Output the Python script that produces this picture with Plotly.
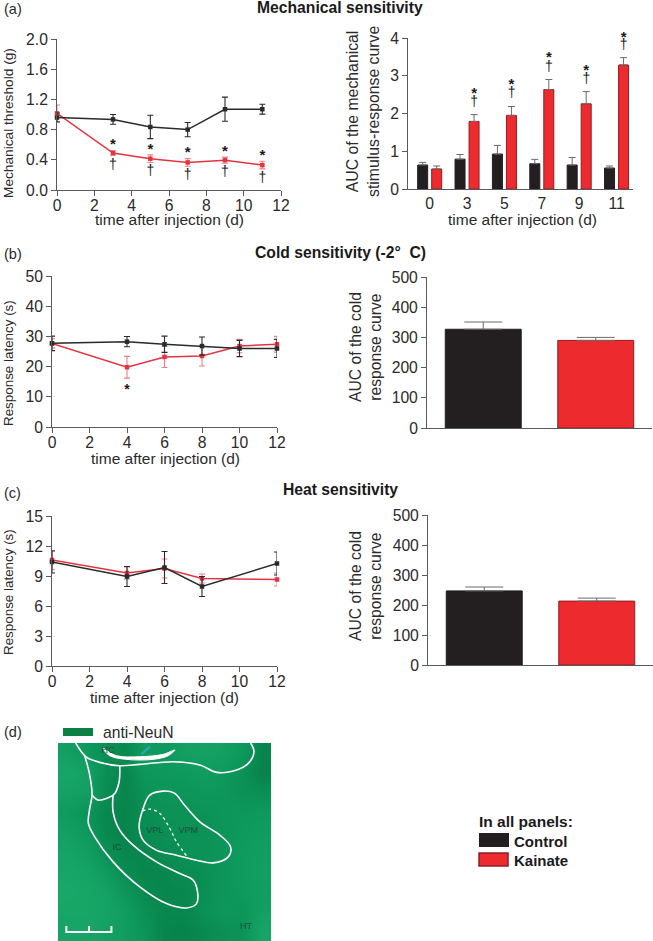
import plotly.graph_objects as go

FONT = "Liberation Sans"
BLACK = "#231f20"
RED = "#ed2a2e"
REDLINE = "#e5343f"
REDERR = "#ef7f86"
REDEDGE = "#8f1f24"
INK = "#2b2a2a"
AXIS = "#5a5a5a"
W, H = 653, 941

# Panel (a) time course
a_days = [0, 3, 5, 7, 9, 11]
a_ctrl = [0.96, 0.935, 0.835, 0.80, 1.07, 1.07]
a_ctrl_err = [0.06, 0.065, 0.155, 0.095, 0.16, 0.065]
a_kain = [1.015, 0.49, 0.415, 0.365, 0.395, 0.33]
a_kain_err = [0.11, 0.03, 0.05, 0.05, 0.04, 0.05]
a_star_days = [3, 5, 7, 9, 11]
a_star_y = [0.59, 0.53, 0.49, 0.50, 0.445]
a_dag_y = [0.32, 0.25, 0.19, 0.23, 0.155]

# Panel (a) AUC
a_auc_labels = ["0", "3", "5", "7", "9", "11"]
a_auc_ctrl = [0.635, 0.79, 0.925, 0.67, 0.635, 0.555]
a_auc_ctrl_err = [0.07, 0.125, 0.23, 0.115, 0.20, 0.055]
a_auc_kain = [0.53, 1.79, 1.95, 2.635, 2.255, 3.285]
a_auc_kain_err = [0.08, 0.18, 0.235, 0.265, 0.325, 0.195]
a_auc_star_idx = [1, 2, 3, 4, 5]
a_auc_star_y = [2.51, 2.75, 3.455, 3.13, 4.0]
a_auc_dag_y = [2.3, 2.52, 3.23, 2.9, 3.8]

# Panel (b) time course
b_days = [0, 4, 6, 8, 10, 12]
b_ctrl = [27.7, 28.25, 27.4, 26.8, 26.0, 26.0]
b_ctrl_err = [2.4, 1.7, 2.7, 3.0, 2.7, 3.0]
b_kain = [27.7, 19.8, 23.2, 23.5, 26.8, 27.4]
b_kain_err = [1.5, 3.6, 3.5, 3.3, 2.2, 2.6]
b_star_days = [4]
b_star_y = [12.2]

# Panel (b) AUC
b_auc = [327, 290]
b_auc_err = [24, 10]

# Panel (c) time course
c_days = [0, 4, 6, 8, 12]
c_ctrl = [10.4, 8.95, 9.85, 7.95, 10.25]
c_ctrl_err = [1.1, 1.0, 1.6, 1.0, 1.15]
c_kain = [10.6, 9.3, 9.75, 8.75, 8.65]
c_kain_err = [0.95, 0.6, 0.95, 0.45, 0.65]

# Panel (c) AUC
c_auc = [247, 213]
c_auc_err = [13, 10]

# Panel (d) micrograph tone, estimated by eye on a coarse grid
tissue_tone = [
    [.60, .52, .40, .36, .56, .52, .60, .62, .60, .52, .32],
    [.68, .62, .40, .34, .50, .52, .52, .56, .52, .44, .30],
    [.62, .60, .38, .32, .44, .48, .48, .50, .50, .44, .42],
    [.54, .46, .34, .32, .40, .44, .44, .46, .48, .50, .52],
    [.60, .52, .34, .32, .38, .42, .44, .44, .48, .52, .56],
    [.64, .58, .42, .32, .34, .40, .44, .44, .48, .54, .58],
    [.68, .64, .54, .38, .32, .34, .38, .42, .48, .54, .60],
    [.70, .68, .62, .48, .36, .32, .34, .42, .48, .52, .58],
    [.68, .68, .64, .56, .42, .34, .34, .44, .50, .48, .60],
    [.66, .66, .62, .56, .46, .32, .30, .36, .42, .46, .66],
]
outer_x = [228, 245, 262, 300, 360, 420, 520, 600, 650, 700, 745, 762, 752]
outer_y = [84, 110, 128, 142, 152, 148, 140, 150, 172, 168, 145, 110, 84]
capsule_x = [255, 270, 277, 270, 266, 285, 340, 420, 500, 560, 590, 593, 580, 540, 470, 400, 360, 340, 340]
capsule_y = [122, 180, 240, 280, 325, 365, 440, 515, 565, 578, 565, 530, 495, 475, 440, 390, 345, 290, 240]
bridge_x = [360, 358, 345, 320, 295, 277]
bridge_y = [152, 200, 235, 250, 255, 240]
vp_x = [430, 450, 490, 525, 550, 600, 660, 692, 685, 640, 590, 530, 470, 430, 418, 430]
vp_y = [280, 240, 228, 235, 265, 320, 360, 395, 425, 443, 435, 420, 405, 375, 335, 280]
split_x = [428, 450, 480, 510, 530, 565]
split_y = [288, 282, 295, 340, 380, 428]
crescent_x = [310, 350, 420, 490, 525, 505, 460, 380, 330, 310]
crescent_y = [100, 122, 125, 118, 105, 122, 133, 133, 122, 100]
vessel_x = [425, 450]
vessel_y = [118, 95]
scalebar_x = [200, 200, 200, 268, 268, 268, 335, 335, 335]
scalebar_y = [632, 650, 650, 650, 632, 650, 650, 632, 650]
region_labels = ["HC", "IC", "VPL", "VPM", "HT"]
region_x = [325, 352, 465, 565, 738]
region_y = [108, 397, 347, 347, 634]


def px(x):
    return x / W


def py(y):
    return 1 - y / H


fig = go.Figure()
layout = {}


def add_axes(n, x0, x1, ytop, ybot, xr, yr, xticks=None, xlabels=None, yticks=None, ylabels=None, xtick_len=5):
    sx = "" if n == 1 else str(n)
    base = dict(showgrid=False, zeroline=False, showline=True, linecolor=AXIS, linewidth=1,
                ticks="outside", tickcolor=AXIS, tickwidth=1, automargin=False,
                tickfont=dict(family=FONT, size=15.7, color=INK))
    layout["xaxis" + sx] = dict(base, domain=[px(x0), px(x1)], range=xr, anchor="y" + sx,
                                tickmode="array", tickvals=xticks, ticktext=xlabels, ticklen=xtick_len,
                                ticklabelstandoff=-4 if xtick_len else 0)
    layout["yaxis" + sx] = dict(base, domain=[py(ybot), py(ytop)], range=yr, anchor="x" + sx,
                                tickmode="array", tickvals=yticks, ticktext=ylabels, ticklen=5)
    return "x" + sx, "y" + sx


def course(xa, ya, days, vals, errs, colour, errcolour, name):
    fig.add_trace(go.Scatter(
        x=days, y=vals, mode="lines+markers", name=name, xaxis=xa, yaxis=ya, cliponaxis=False,
        line=dict(color=colour, width=1.5), marker=dict(color=colour, size=4.5, symbol="square"),
        error_y=dict(type="data", array=errs, visible=True, color=errcolour, thickness=1.1, width=3)))


def marks(xa, ya, xs, ys, char, size, bold=False):
    label = "<b>%s</b>" % char if bold else char
    fig.add_trace(go.Scatter(
        x=xs, y=ys, mode="text", text=[label] * len(xs), textposition="middle center",
        xaxis=xa, yaxis=ya, cliponaxis=False, hoverinfo="skip",
        textfont=dict(family=FONT, size=size, color="#1a1a1a")))


def bars(xa, ya, xs, vals, errs, colour, edge, name, errcolour, cap=3.5):
    fig.add_trace(go.Bar(
        x=xs, y=vals, name=name, xaxis=xa, yaxis=ya,
        marker=dict(color=colour, line=dict(color=edge, width=1)),
        error_y=dict(type="data", symmetric=False, array=errs, arrayminus=[0] * len(errs),
                     visible=True, color=errcolour, thickness=1, width=cap)))


# (a) left
xa, ya = add_axes(1, 57, 281, 39, 190, [0, 12], [0, 2],
                  [0, 2, 4, 6, 8, 10, 12], ["0", "2", "4", "6", "8", "10", "12"],
                  [0, .4, .8, 1.2, 1.6, 2], ["0.0", "0.4", "0.8", "1.2", "1.6", "2.0"])
course(xa, ya, a_days, a_kain, a_kain_err, REDLINE, REDERR, "Kainate")
course(xa, ya, a_days, a_ctrl, a_ctrl_err, "#2a2a2a", "#2a2a2a", "Control")
marks(xa, ya, a_star_days, a_star_y, "*", 15, True)
marks(xa, ya, a_star_days, a_dag_y, "†", 14)

# (a) right
xa, ya = add_axes(2, 408, 633, 38, 189, [-0.58, 5.44], [0, 4],
                  list(range(6)), a_auc_labels, [0, 1, 2, 3, 4], ["0", "1", "2", "3", "4"], xtick_len=0)
idx = list(range(6))
bars(xa, ya, idx, a_auc_ctrl, a_auc_ctrl_err, BLACK, BLACK, "Control", "#6a6a6a")
bars(xa, ya, idx, a_auc_kain, a_auc_kain_err, RED, REDEDGE, "Kainate", "#6a6a6a")
marks(xa, ya, [i + 0.19 for i in a_auc_star_idx], a_auc_star_y, "*", 15, True)
marks(xa, ya, [i + 0.19 for i in a_auc_star_idx], a_auc_dag_y, "†", 14)

# (b) left
xa, ya = add_axes(3, 52, 277, 276, 427, [0, 12], [0, 50],
                  [0, 2, 4, 6, 8, 10, 12], ["0", "2", "4", "6", "8", "10", "12"],
                  [0, 10, 20, 30, 40, 50], ["0", "10", "20", "30", "40", "50"])
course(xa, ya, b_days, b_kain, b_kain_err, REDLINE, REDERR, "Kainate")
course(xa, ya, b_days, b_ctrl, b_ctrl_err, "#2a2a2a", "#2a2a2a", "Control")
marks(xa, ya, b_star_days, b_star_y, "*", 14, True)

# (b) right
xa, ya = add_axes(4, 427, 652, 277, 428, [-0.5, 1.5], [0, 500], [], [],
                  [0, 100, 200, 300, 400, 500], ["0", "100", "200", "300", "400", "500"], xtick_len=0)
bars(xa, ya, [0], b_auc[:1], b_auc_err[:1], BLACK, BLACK, "Control", "#6a6a6a", 19)
bars(xa, ya, [1], b_auc[1:], b_auc_err[1:], RED, REDEDGE, "Kainate", "#6a6a6a", 19)

# (c) left
xa, ya = add_axes(5, 52, 277, 516, 666, [0, 12], [0, 15],
                  [0, 2, 4, 6, 8, 10, 12], ["0", "2", "4", "6", "8", "10", "12"],
                  [0, 3, 6, 9, 12, 15], ["0", "3", "6", "9", "12", "15"])
course(xa, ya, c_days, c_kain, c_kain_err, REDLINE, REDERR, "Kainate")
course(xa, ya, c_days, c_ctrl, c_ctrl_err, "#2a2a2a", "#2a2a2a", "Control")

# (c) right
xa, ya = add_axes(6, 428, 653, 515, 665, [-0.5, 1.5], [0, 500], [], [],
                  [0, 100, 200, 300, 400, 500], ["0", "100", "200", "300", "400", "500"], xtick_len=0)
bars(xa, ya, [0], c_auc[:1], c_auc_err[:1], BLACK, BLACK, "Control", "#6a6a6a", 19)
bars(xa, ya, [1], c_auc[1:], c_auc_err[1:], RED, REDEDGE, "Kainate", "#6a6a6a", 19)

# (d) micrograph on hidden axes measured in reference zoom units
layout["xaxis7"] = dict(domain=[px(58), px(271)], range=[175, 813], visible=False, anchor="y7", automargin=False)
layout["yaxis7"] = dict(domain=[py(941), py(743)], range=[677, 84], visible=False, anchor="x7", automargin=False)
n_rows, n_cols = len(tissue_tone), len(tissue_tone[0])
fig.add_trace(go.Heatmap(
    z=tissue_tone, xaxis="x7", yaxis="y7", showscale=False, zsmooth="best", zmin=0.3, zmax=0.72,
    x0=175 + 638 / n_cols / 2, dx=638 / n_cols, y0=84 + 593 / n_rows / 2, dy=593 / n_rows,
    colorscale=[[0, "#07834b"], [0.5, "#0e985c"], [1, "#1aa96a"]], hoverinfo="skip"))


def outline(xs, ys, width=1.6, dash="solid", colour="white", shape="spline"):
    fig.add_trace(go.Scatter(x=xs, y=ys, mode="lines", xaxis="x7", yaxis="y7", hoverinfo="skip",
                             line=dict(color=colour, width=width, dash=dash, shape=shape)))


outline(outer_x, outer_y)
outline(capsule_x, capsule_y)
outline(bridge_x, bridge_y)
outline(vp_x, vp_y)
outline(split_x, split_y, width=1.3, dash="3px,3px")
fig.add_trace(go.Scatter(x=crescent_x, y=crescent_y, mode="lines", fill="toself", fillcolor="white",
                         xaxis="x7", yaxis="y7", hoverinfo="skip",
                         line=dict(color="white", width=1, shape="spline")))
outline(vessel_x, vessel_y, width=2, colour="#2aa6c4")
outline(scalebar_x, scalebar_y, width=2, shape="linear")
fig.add_trace(go.Scatter(x=region_x, y=region_y, mode="text", text=region_labels, xaxis="x7", yaxis="y7",
                         textposition="middle center", hoverinfo="skip",
                         textfont=dict(family=FONT, size=9, color="#16503a")))

# page overlay axes: annotations referenced here do not push the margins
layout["xaxis8"] = dict(domain=[0, 1], range=[0, W], visible=False, anchor="y8", automargin=False)
layout["yaxis8"] = dict(domain=[0, 1], range=[H, 0], visible=False, anchor="x8", automargin=False)
fig.add_trace(go.Scatter(x=[None], y=[None], xaxis="x8", yaxis="y8", hoverinfo="skip"))


def note(text, x, y, size=15, bold=False, angle=0, anchor="center", colour=INK):
    fig.add_annotation(text="<b>%s</b>" % text if bold else text, xref="x8", yref="y8",
                       x=x, y=y, xanchor=anchor, yanchor="middle", showarrow=False,
                       textangle=angle, font=dict(family=FONT, size=size, color=colour), align="center")


# panel letters and titles
for letter, yy in [("(a)", 9), ("(b)", 254), ("(c)", 493), ("(d)", 732)]:
    note(letter, 2, yy, 14.5, anchor="left")
note("Mechanical sensitivity", 340, 7, 15.7, True, colour="#1a1a1a")
note("Cold sensitivity (-2°  C)", 340, 252, 15.7, True, colour="#1a1a1a")
note("Heat sensitivity", 340, 489, 15.7, True, colour="#1a1a1a")

# axis captions
TIME = "time after injection (d)"
note(TIME, 169, 219.5, 15.5)
note(TIME, 522, 219.5, 15.5)
note(TIME, 165, 458, 15.5)
note(TIME, 164, 697, 15.5)
note("Mechanical threshold (g)", 8, 123, 13.7, angle=-90)
note("AUC of the mechanical<br>stimulus-response curve", 363, 112, 15.8, angle=-90)
note("Response latency (s)", 8, 363, 13.4, angle=-90)
note("Response latency (s)", 8, 592, 13.4, angle=-90)
note("AUC of the cold<br>response curve", 365, 347, 15.7, angle=-90)
note("AUC of the cold<br>response curve", 365, 586, 15.7, angle=-90)

# keys
note("anti-NeuN", 101, 732, 15.7, anchor="left")
note("In all panels:", 477, 821, 15.5, True, anchor="left", colour="#1a1a1a")
note("Control", 512, 841, 15, True, anchor="left", colour="#1a1a1a")
note("Kainate", 512, 860, 15, True, anchor="left", colour="#1a1a1a")
shapes = [
    dict(type="rect", xref="x8", yref="y8", x0=63, x1=93, y0=736, y1=728,
         fillcolor="#0c8042", line=dict(width=0)),
    dict(type="rect", xref="x8", yref="y8", x0=479, x1=509, y0=847, y1=833,
         fillcolor=BLACK, line=dict(width=0)),
    dict(type="rect", xref="x8", yref="y8", x0=479, x1=508, y0=866, y1=853,
         fillcolor=RED, line=dict(color=REDEDGE, width=1.5)),
]

fig.update_layout(
    width=W, height=H, margin=dict(l=0, r=0, t=0, b=0), paper_bgcolor="white", plot_bgcolor="rgba(0,0,0,0)",
    showlegend=False, barmode="group", bargap=0.25, bargroupgap=0.286, shapes=shapes, **layout)
# single-bar panels: a bar per category, drawn wide
fig.update_traces(width=0.675, offset=-0.3375, selector=dict(type="bar", xaxis="x4"))
fig.update_traces(width=0.675, offset=-0.3375, selector=dict(type="bar", xaxis="x6"))
fig.write_html("out.html", post_script="document.body.style.margin='0';", config={"displayModeBar": False})
